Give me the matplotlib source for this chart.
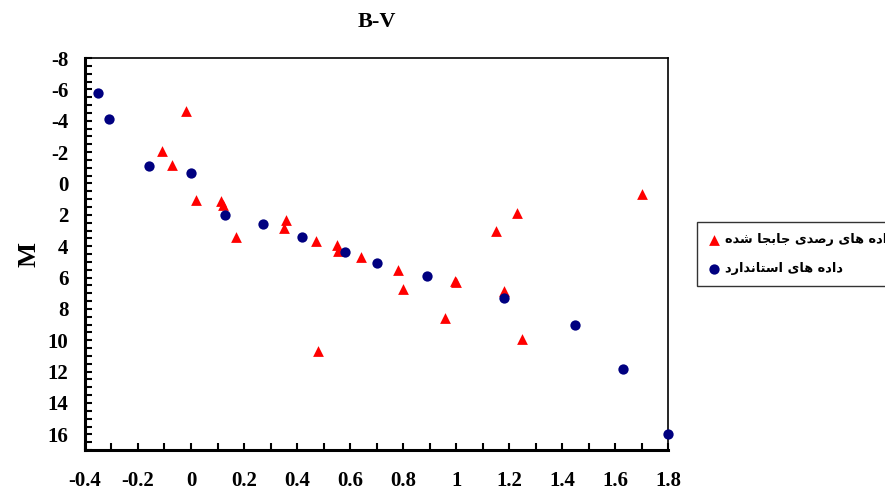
import matplotlib
matplotlib.use("Agg")
import matplotlib.pyplot as plt
from matplotlib.ticker import MultipleLocator

# data
std_bv = [-0.35, -0.31, -0.16, 0.00, 0.13, 0.27, 0.42, 0.58, 0.70, 0.89, 1.18, 1.45, 1.63, 1.80]
std_m = [-5.8, -4.1, -1.1, -0.7, 2.0, 2.6, 3.4, 4.4, 5.1, 5.9, 7.3, 9.0, 11.8, 16.0]

obs_bv = [-0.02, -0.11, -0.07, 0.02, 0.115, 0.12, 0.17, 0.35, 0.36, 0.47, 0.48,
          0.55, 0.555, 0.64, 0.78, 0.80, 0.96, 0.995, 1.00, 1.15, 1.18, 1.23, 1.25, 1.70]
obs_m = [-4.6, -2.1, -1.2, 1.05, 1.1, 1.4, 3.4, 2.85, 2.3, 3.7, 10.7,
         3.9, 4.3, 4.7, 5.5, 6.7, 8.6, 6.2, 6.3, 3.0, 6.85, 1.9, 9.9, 0.7]

x_ticks = [-0.4, -0.2, 0, 0.2, 0.4, 0.6, 0.8, 1, 1.2, 1.4, 1.6, 1.8]
y_ticks = list(range(-8, 17, 2))

label_obs = "داده های رصدی جابجا شده"
label_std = "داده های استاندارد"

# simple arabic shaping (matplotlib draws glyphs without joining)
FORMS = {
    "ا": ("\uFE8D", "\uFE8E", None, None),
    "د": ("\uFEA9", "\uFEAA", None, None),
    "ر": ("\uFEAD", "\uFEAE", None, None),
    "ه": ("\uFEE9", "\uFEEA", "\uFEEB", "\uFEEC"),
    "ی": ("\uFBFC", "\uFBFD", "\uFBFE", "\uFBFF"),
    "ص": ("\uFEB9", "\uFEBA", "\uFEBB", "\uFEBC"),
    "ج": ("\uFE9D", "\uFE9E", "\uFE9F", "\uFEA0"),
    "ب": ("\uFE8F", "\uFE90", "\uFE91", "\uFE92"),
    "ش": ("\uFEB5", "\uFEB6", "\uFEB7", "\uFEB8"),
    "س": ("\uFEB1", "\uFEB2", "\uFEB3", "\uFEB4"),
    "ت": ("\uFE95", "\uFE96", "\uFE97", "\uFE98"),
    "ن": ("\uFEE5", "\uFEE6", "\uFEE7", "\uFEE8"),
}


def shape(text):
    out = []
    for i, ch in enumerate(text):
        if ch not in FORMS:
            out.append(ch)
            continue
        prev = text[i - 1] if i > 0 else ""
        nxt = text[i + 1] if i + 1 < len(text) else ""
        joins_prev = prev in FORMS and FORMS[prev][2] is not None
        joins_next = FORMS[ch][2] is not None and nxt in FORMS
        iso, fin, ini, med = FORMS[ch]
        if joins_prev and joins_next:
            out.append(med)
        elif joins_prev:
            out.append(fin)
        elif joins_next:
            out.append(ini)
        else:
            out.append(iso)
    return "".join(out)[::-1]


plt.rcParams["axes.unicode_minus"] = False
serif = ["Liberation Serif", "DejaVu Serif"]

fig = plt.figure(figsize=(8.85, 4.94), dpi=100)
ax = fig.add_axes([0.096, 0.089, 0.659, 0.7935])

ax.scatter(obs_bv, obs_m, marker="^", s=60, color="#FF0000", lw=0, label=shape(label_obs), zorder=3)
ax.scatter(std_bv, std_m, marker="o", s=55, color="#000080", lw=0, label=shape(label_std), zorder=3,
           clip_on=False)

ax.set_xlim(-0.4, 1.8)
ax.set_ylim(17, -8)
ax.set_xticks(x_ticks)
ax.set_xticklabels([f"{t:g}" for t in x_ticks])
ax.set_yticks(y_ticks)
ax.xaxis.set_minor_locator(MultipleLocator(0.1))
ax.yaxis.set_minor_locator(MultipleLocator(0.5))

for s in ax.spines.values():
    s.set_linewidth(1.2)
ax.spines["left"].set_linewidth(2.2)
ax.spines["bottom"].set_linewidth(2.2)

ax.tick_params(which="both", direction="in", top=False, right=False, width=1.5)
ax.tick_params(which="major", length=5)
ax.tick_params(which="minor", length=5)
ax.tick_params(axis="y", pad=12)
ax.tick_params(axis="x", pad=15)
for lab in ax.get_xticklabels() + ax.get_yticklabels():
    lab.set_family(serif)
    lab.set_fontweight("bold")
    lab.set_fontsize(15)

ax.set_title("B-V", family=serif, fontweight="bold", fontsize=16, pad=22)
ax.set_ylabel("M", family=serif, fontweight="bold", fontsize=19, labelpad=5)

leg = fig.legend(loc="upper left", bbox_to_anchor=(0.7876, 0.5506), borderaxespad=0,
                 frameon=True, fancybox=False, handletextpad=0.3, borderpad=0.85,
                 labelspacing=1.25, handlelength=1.0,
                 prop={"family": ["DejaVu Sans"], "weight": "bold", "size": 9.3})
leg.get_frame().set_edgecolor("black")
leg.get_frame().set_linewidth(1.0)

fig.savefig("out.png", dpi=100)
